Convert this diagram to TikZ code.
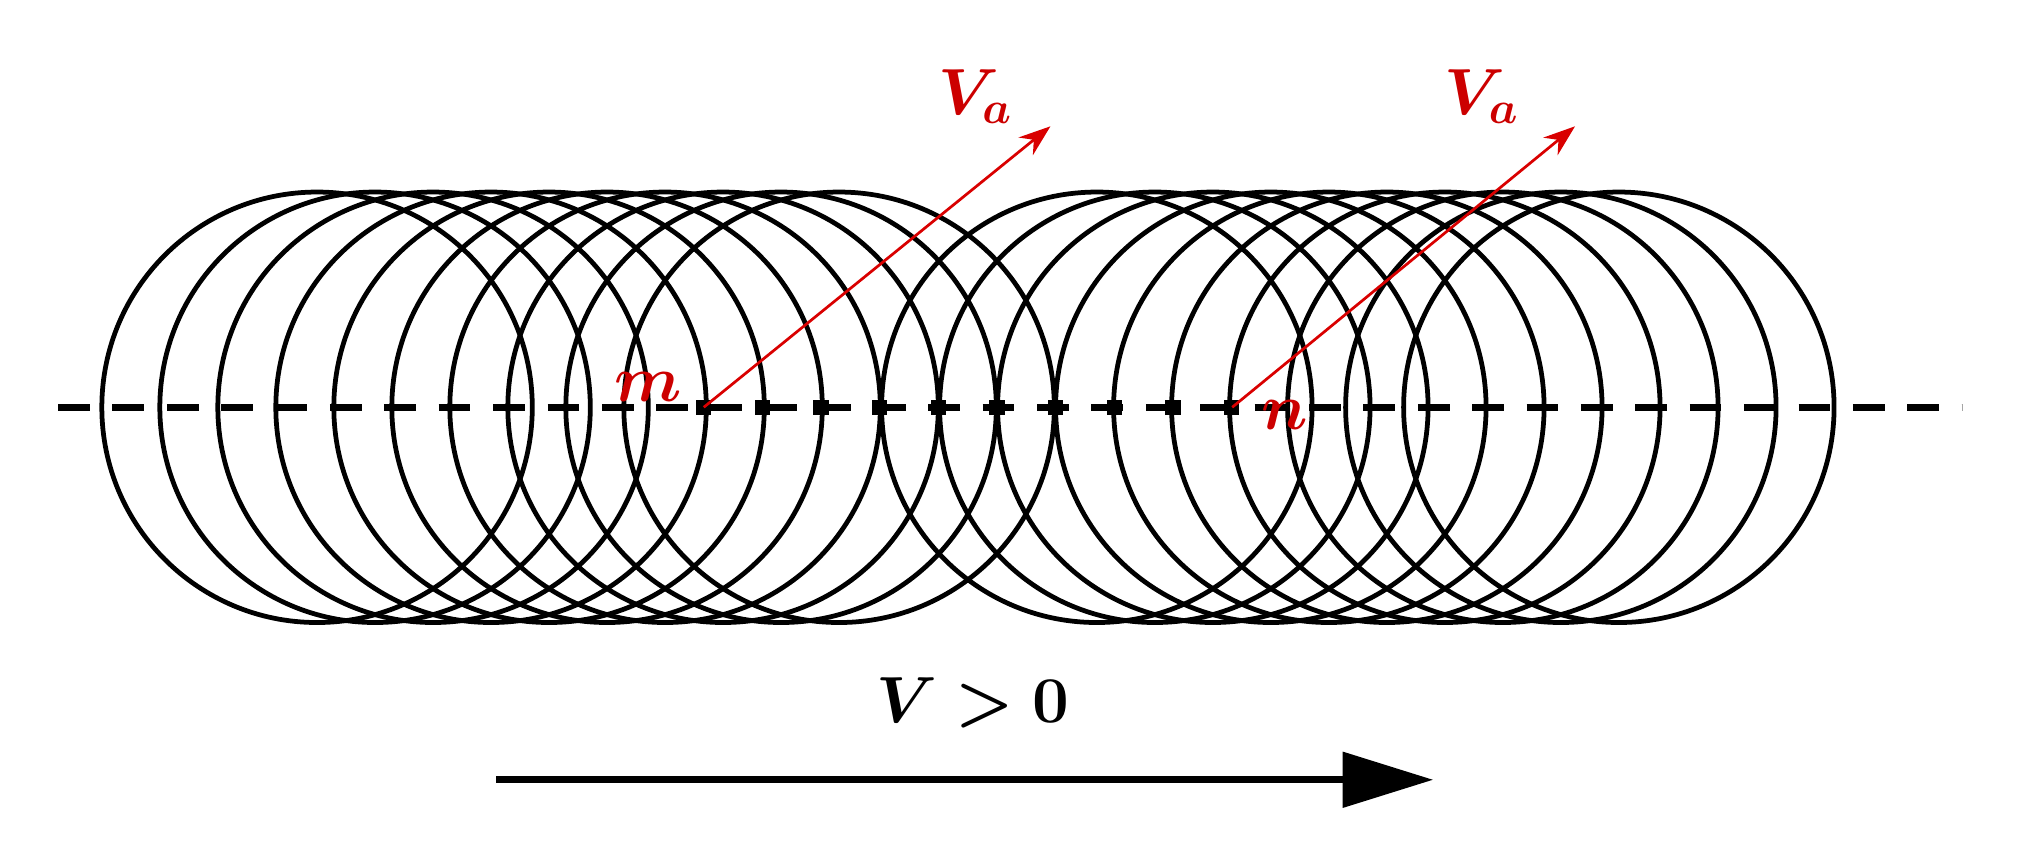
\documentclass[tikz,border=0pt]{standalone}
\usepackage{amsmath,bm}
\usetikzlibrary{arrows.meta}
\begin{document}
\begin{tikzpicture}[x=0.01cm,y=-0.01cm,
  wave/.style={line width=1.05pt},
  vel/.style={draw=red!85!black,line width=0.6pt,-{Stealth[length=7pt,width=5pt]}},
  lab/.style={text=red!80!black,font=\Large}]
\useasboundingbox (0,0) rectangle (1568,658);
\foreach \i in {0,...,9}{
  \draw[wave] ({246+\i*45},316) circle (167);
  \draw[wave] ({851+\i*45},316) circle (167);
}
\draw[line width=1.5pt,dash pattern=on 7pt off 5pt] (45,316) -- (1522,316);
\foreach \i in {0,...,9}{\fill ({546+\i*45.5-6},310) rectangle ++(12,12);}
\coordinate (m) at (546,316);
\coordinate (n) at (956,316);
\coordinate (ma) at (815,98);
\coordinate (na) at (1222,98);
\draw[vel] (m) -- (ma);
\draw[vel] (n) -- (na);
\node[lab] (ml) at (503,300) {$\bm{m}$};
\node[lab] (nl) at (997,322) {$\bm{n}$};
\node[lab] (va1) at (757,75) {$\bm{V_a}$};
\node[lab] (va2) at (1150,75) {$\bm{V_a}$};
\node[font=\Large] (v) at (755,545) {$\bm{V>0}$};
\coordinate (a1) at (385,605);
\coordinate (a2) at (1112,605);
\draw[line width=1.6pt,-{Triangle[length=20pt,width=12pt]}] (a1) -- (a2);
\end{tikzpicture}
\end{document}
